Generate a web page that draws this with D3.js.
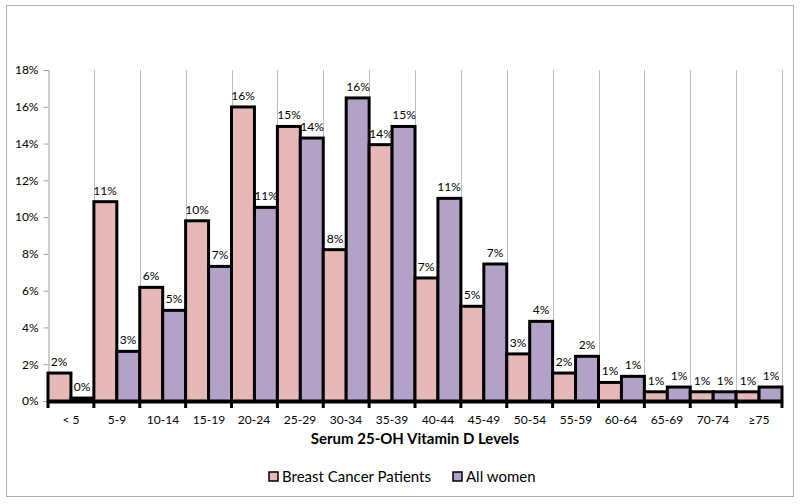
<!DOCTYPE html>
<html><head><meta charset="utf-8">
<script src="https://cdn.jsdelivr.net/npm/d3@7"></script>
<style>body{margin:0;background:#fff}svg{display:block}text{font-family:Lato,"Open Sans",sans-serif;fill:#000}</style>
</head><body><svg id="c" width="800" height="504"></svg>
<script>
const categories = ["< 5","5-9","10-14","15-19","20-24","25-29","30-34","35-39","40-44","45-49","50-54","55-59","60-64","65-69","70-74","≥75"];
const breastCancer = [0.0152,0.1084,0.0618,0.098,0.1599,0.1493,0.0823,0.1394,0.0669,0.0515,0.0256,0.0152,0.0101,0.005,0.005,0.005];
const allWomen = [0.0016,0.027,0.0493,0.0732,0.1053,0.143,0.1648,0.1493,0.1102,0.0745,0.0433,0.0243,0.0134,0.0076,0.005,0.0076];
const seriesNames = ["Breast Cancer Patients","All women"];
const yTicks = [0,0.02,0.04,0.06,0.08,0.10,0.12,0.14,0.16,0.18];

const colors = ["#e6b9b8","#b3a2c7"];
const svg = d3.select("#c");
const m = {l:48, r:782, t:70, b:401};

svg.append("rect").attr("x",6.5).attr("y",5.5).attr("width",787).attr("height",491)
  .attr("fill","#fff").attr("stroke","#b0b0b0").attr("stroke-width",1);

const x = d3.scaleBand().domain(categories).range([m.l,m.r]).padding(0);
const xs = d3.scaleBand().domain([0,1]).range([0,x.bandwidth()]).padding(0);
const y = d3.scaleLinear().domain([0,0.18]).range([m.b,m.t]);

// vertical gridlines
const bounds = categories.map(c=>x(c)).concat([m.r]);
svg.append("g").selectAll("line").data(bounds.slice(1)).join("line")
  .attr("x1",d=>Math.round(d)+0.5).attr("x2",d=>Math.round(d)+0.5)
  .attr("y1",m.t).attr("y2",m.b).attr("stroke","#bdbdbd").attr("stroke-width",1);

// y axis
const yAxis = svg.append("g").attr("transform",`translate(${m.l+0.5},0)`)
  .call(d3.axisLeft(y).tickValues(yTicks).tickFormat(d3.format(".0%")).tickSize(5).tickPadding(5));
yAxis.select(".domain").attr("stroke","#a0a0a0");
yAxis.selectAll(".tick line").attr("stroke","#a0a0a0");
yAxis.selectAll("text").attr("font-size",12).attr("fill","#000").style("font-family","Lato,sans-serif");

// bars
const data = [];
categories.forEach((c,i)=>{
  data.push({c, s:0, v:breastCancer[i]});
  data.push({c, s:1, v:allWomen[i]});
});
svg.append("g").selectAll("rect").data(data).join("rect")
  .attr("x",d=>x(d.c)+xs(d.s)).attr("width",xs.bandwidth())
  .attr("y",d=>y(d.v)).attr("height",d=>y(0)-y(d.v))
  .attr("fill",d=>colors[d.s]).attr("stroke","#000").attr("stroke-width",3);

// labels
svg.append("g").selectAll("text").data(data).join("text")
  .attr("x",d=>Math.round(x(d.c)+xs(d.s)+xs.bandwidth()/2)).attr("y",d=>Math.round(y(d.v)-7))
  .attr("text-anchor","middle").attr("font-size",12)
  .text(d=>d3.format(".0%")(d.v));

// x axis
const xAxis = svg.append("g").attr("transform",`translate(0,${m.b+1})`);
xAxis.append("line").attr("x1",m.l-1).attr("x2",m.r+1).attr("y1",0).attr("y2",0)
  .attr("stroke","#000").attr("stroke-width",3);
xAxis.selectAll("line.t").data(bounds).join("line").attr("class","t")
  .attr("x1",d=>d).attr("x2",d=>d).attr("y1",0).attr("y2",6)
  .attr("stroke","#000").attr("stroke-width",3);
xAxis.selectAll("text").data(categories).join("text")
  .attr("x",d=>Math.round(x(d)+x.bandwidth()/2)).attr("y",22).attr("text-anchor","middle")
  .attr("font-size",12).text(d=>d);

svg.append("text").attr("x",(m.l+m.r)/2).attr("y",444).attr("text-anchor","middle")
  .attr("font-size",15).attr("font-weight","bold").text("Serum 25-OH Vitamin D Levels");

// legend
const lg = svg.append("g");
const legendX = [269,453];
seriesNames.forEach((n,i)=>{
  lg.append("rect").attr("x",legendX[i]).attr("y",472).attr("width",9).attr("height",9)
    .attr("fill",colors[i]).attr("stroke","#000").attr("stroke-width",1.5);
  lg.append("text").attr("x",legendX[i]+13).attr("y",482).attr("font-size",15).text(n);
});
</script></body></html>
